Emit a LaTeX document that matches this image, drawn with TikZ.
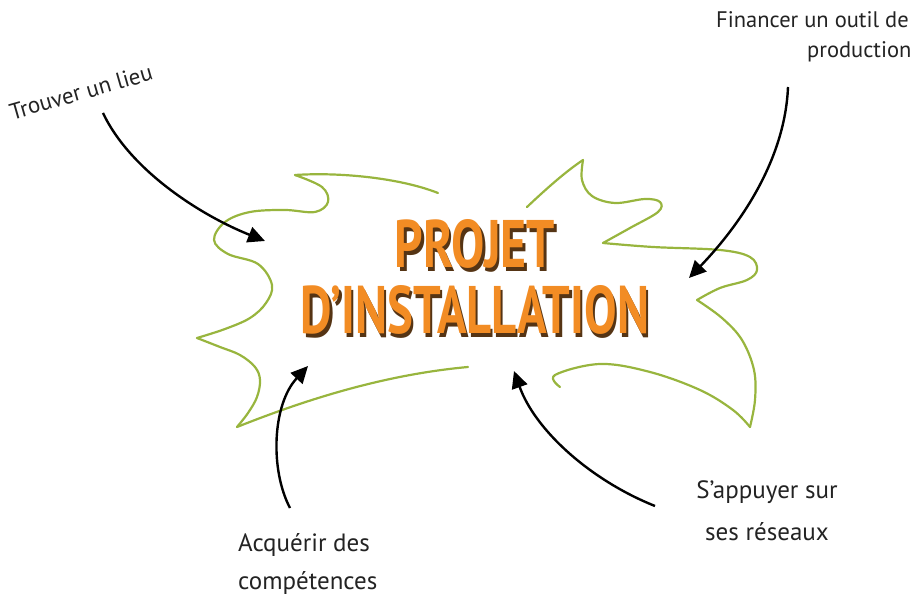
\documentclass[tikz,border=0pt]{standalone}
\usepackage{fontspec}
\setmainfont{PT Sans}
\usepackage{graphicx}
\usetikzlibrary{arrows.meta, calc}

\definecolor{lime}{RGB}{152,181,62}
\definecolor{titleorange}{RGB}{242,140,36}
\definecolor{titleshadow}{RGB}{85,52,20}
\definecolor{ink}{RGB}{35,35,35}

% orange title word with its dark drop shadow
\newcommand{\titleword}[2]{\resizebox{#2pt}{48pt}{\makebox[0pt][l]{\hspace*{0.5pt}\raisebox{-0.6pt}{\color{titleshadow}#1}}\color{titleorange}#1}}

\tikzset{
  scribble/.style={draw=lime, line width=2.2pt, line cap=round, line join=round},
  pointer/.style={draw=black, line width=2.4pt, -{Triangle[length=17pt, width=16pt]}},
  note/.style={text=ink, font=\fontsize{25}{38}\selectfont, inner sep=0pt}
}

\begin{document}
\begin{tikzpicture}[x=1pt, y=-1pt]
		\useasboundingbox (0,0) rectangle (919,601);

		\coordinate (lieu)    at (81,92);
		\coordinate (outil)   at (716,37);
		\coordinate (comp)    at (238,564);
		\coordinate (reseau)  at (767,511);
		\coordinate (projet)  at (475,279);

		\node[note, rotate=16, font=\fontsize{23}{30}\selectfont] (LIEU) at (lieu) {Trouver un lieu};
		\node[note, anchor=west, align=left, font=\fontsize{22.5}{38}\selectfont] (OUTIL) at (outil) {Financer un outil de\\[-8pt]\hspace*{91pt}production};
		\node[note, anchor=west, align=left] (COMP) at (comp) {Acquérir des\\compétences};
		\node[note, align=center] (RESEAU) at (reseau) {S’appuyer sur\\[4pt]ses réseaux};
		\node[align=center, inner sep=0pt, font=\fontspec{PT Sans Bold}] (PROJ) at (projet) {\titleword{PROJET}{160}\\[12pt]\titleword{D’INSTALLATION}{348}};

		% green cloud, left half
		\draw[scribble] (438,193) .. controls (400,178) and (340,172) .. (295,175);
		\draw[scribble] plot[smooth, tension=0.6] coordinates {(295,175) (322,187) (328,202) (315,212) (285,210) (250,212) (225,222) (214,240) (228,254) (258,264) (272,285) (266,303) (250,318) (225,329) (197,338)};
		\draw[scribble] plot[smooth, tension=0.6] coordinates {(197,338) (220,347) (240,355) (255,367) (260,380) (257,397) (248,413) (237,427)};
		\draw[scribble] (237,427) .. controls (300,402) and (380,375) .. (468,367);

		% green cloud, right half
		\draw[scribble] (527,207) .. controls (545,190) and (565,172) .. (583,160);
		\draw[scribble] plot[smooth, tension=0.6] coordinates {(583,160) (582,180) (592,196) (615,203) (645,199) (660,202) (658,212) (630,228) (603,243)};
		\draw[scribble] plot[smooth, tension=0.6] coordinates {(603,243) (653,247) (720,250) (750,257) (757,270) (747,280) (720,288) (697,300)};
		\draw[scribble] plot[smooth, tension=0.6] coordinates {(697,300) (722,318) (742,340) (754,370) (755,400) (750,427)};
		\draw[scribble] plot[smooth, tension=0.6] coordinates {(750,427) (733,410) (700,390) (650,372) (600,364) (555,375) (560,387)};

		% arrows into the cloud
		\coordinate (lieustart)   at (103,113);
		\coordinate (outilstart)  at (788,87);
		\coordinate (compstart)   at (290,508);
		\coordinate (reseaustart) at (655,506);
		\coordinate (lieuend)     at (265,241);
		\coordinate (outilend)    at (689,278);
		\coordinate (compend)     at (308,366);
		\coordinate (reseauend)   at (514,371);

		\draw[pointer] (lieustart) .. controls (130,170) and (200,215) .. (lieuend);
		\draw[pointer] (outilstart) .. controls (785,160) and (740,225) .. (outilend);
		\draw[pointer] (compstart) .. controls (270,470) and (272,405) .. (compend);
		\draw[pointer] (reseaustart) .. controls (590,480) and (535,430) .. (reseauend);
	\end{tikzpicture}
\end{document}
